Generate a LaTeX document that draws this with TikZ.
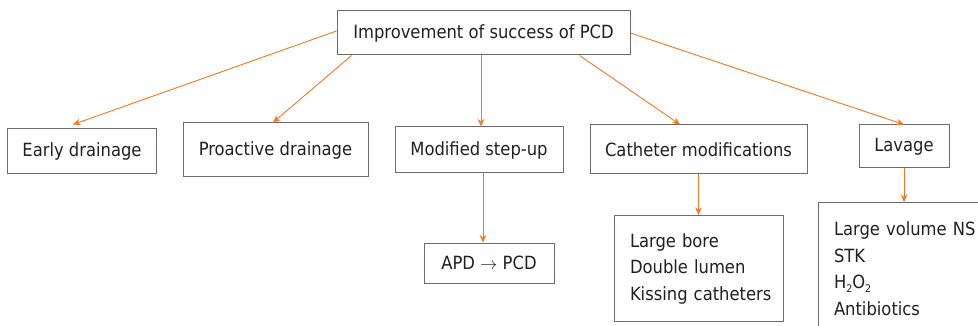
\documentclass[tikz,border=0pt]{standalone}
\usepackage{fontspec}
\setmainfont{DejaVu Sans Condensed}
\usetikzlibrary{arrows.meta}
\definecolor{boxgray}{RGB}{112,106,106}
\definecolor{txt}{RGB}{35,31,32}
\definecolor{arrorange}{RGB}{247,118,38}
\newcommand{\lowtwo}{\raisebox{-3.5pt}{\fontsize{10.5pt}{11pt}\selectfont 2}}
\tikzset{
  box/.style={draw=boxgray, line width=1pt, rectangle, inner sep=0pt, text=txt,
    font=\fontsize{18.2pt}{21pt}\selectfont},
  listbox/.style={draw=boxgray, line width=1pt, rectangle, inner ysep=0pt, inner xsep=15.5pt,
    text=txt, align=left, font=\fontsize{18.2pt}{26.5pt}\selectfont, anchor=north west},
  arr/.style={draw=arrorange, line width=0.9pt, -{Stealth[length=7.5pt,width=6.5pt]}}
}
\begin{document}
\begin{tikzpicture}[x=1pt,y=-1pt]
\useasboundingbox (0,0) rectangle (978,326);
\clip (0,0) rectangle (978,326);
\node[box, minimum width=293pt, minimum height=44pt] (top) at (483.5,33) {Improvement of success of PCD};
\node[box, minimum width=149pt, minimum height=45pt] (early) at (82,151.5) {Early drainage};
\node[box, minimum width=185pt, minimum height=54pt] (pro) at (275.5,150) {Proactive drainage};
\node[box, minimum width=168pt, minimum height=46pt] (mod) at (479,150) {Modified step-up};
\node[box, minimum width=217pt, minimum height=49pt] (cath) at (698.5,149.5) {Catheter modifications};
\node[box, minimum width=90pt, minimum height=43pt] (lav) at (904,146.5) {Lavage};
\node[box, minimum width=130pt, minimum height=40pt] (apd) at (489,263) {APD $\rightarrow$ PCD};
\node[listbox, text width=138pt, minimum height=106pt] (cathlist) at (614,215)
  {Large~bore\\Double~lumen\\Kissing~catheters};
\node[listbox, text width=200pt, minimum height=132pt] (lavlist) at (818,202)
  {Large~volume~NS\\STK\\H\lowtwo O\lowtwo\\Antibiotics};
\draw[arr] ([yshift=2pt]top.west) -- ([xshift=-9pt,yshift=4pt]early.north);
\draw[arr] ([xshift=15pt]top.south west) -- ([xshift=-2.5pt]pro.north);
\draw[arr] ([xshift=-2.5pt]top.south) -- ([xshift=2pt]mod.north);
\draw[arr] ([xshift=96pt]top.south) -- ([xshift=-18.5pt]cath.north);
\draw[arr] (top.east) -- (lav.north);
\draw[arr] ([xshift=4pt]mod.south) -- ([xshift=4pt]mod.south |- apd.north);
\draw[arr] (cath.south) -- (cath.south |- cathlist.north);
\draw[arr] (lav.south) -- (lav.south |- lavlist.north);
\end{tikzpicture}
\end{document}
